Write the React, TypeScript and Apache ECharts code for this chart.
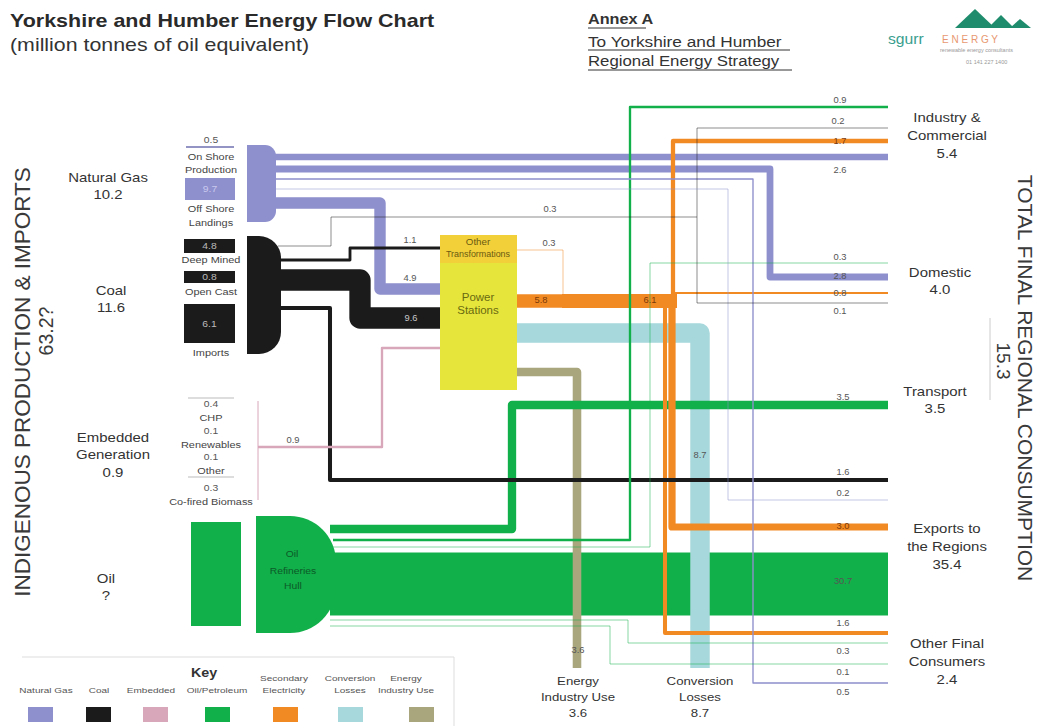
import React, { useEffect, useRef } from "react";
import * as echarts from "echarts";

const W = 1039;
const H = 726;
const FONT = "'Liberation Sans', Arial, Helvetica, sans-serif";

// ---------------- DATA ----------------
const fuelTypes = ["Natural Gas", "Coal", "Embedded", "Oil/Petroleum", "Secondary Electricity", "Conversion Losses", "Energy Industry Use"];
const fuelColors = ["#8e8fcd", "#1b1b1b", "#d8a7ba", "#12b04a", "#f28a24", "#a7d8dc", "#a9a57d"];
const keyLabels = [["Natural Gas"], ["Coal"], ["Embedded"], ["Oil/Petroleum"], ["Secondary", "Electricity"], ["Conversion", "Losses"], ["Energy", "Industry Use"]];

const sourceNames = [["Natural Gas"], ["Coal"], ["Embedded", "Generation"], ["Oil"]];
const sourceTotals = ["10.2", "11.6", "0.9", "?"];
const gasSupplyNames = [["On Shore", "Production"], ["Off Shore", "Landings"]];
const gasSupplyValues = [0.5, 9.7];
const coalSupplyNames = ["Deep Mined", "Open Cast", "Imports"];
const coalSupplyValues = [4.8, 0.8, 6.1];
const embeddedNames = ["CHP", "Renewables", "Other", "Co-fired Biomass"];
const embeddedValues = [0.4, 0.1, 0.1, 0.3];
const sinkNames = [["Industry &", "Commercial"], ["Domestic"], ["Transport"], ["Exports to", "the Regions"], ["Other Final", "Consumers"]];
const sinkTotals = [5.4, 4.0, 3.5, 35.4, 2.4];
const lossNames = [["Energy", "Industry Use"], ["Conversion", "Losses"]];
const lossTotals = [3.6, 8.7];
const totalSupply = "63.2?";
const totalConsumption = "15.3";

// flows: id, fuel type index, value (mtoe)
const flowIds = ["oilExp", "coalPS", "loss", "elecTrunk", "elecPS", "gasPS", "eiu", "oilTr", "elecExp", "gasDom", "gasInd", "elecInd", "elecOth", "coalExp", "coalOT", "oilInd", "embPS", "elecDom", "gasOth", "coalSplit", "otElec", "oilDom", "oilOth", "coalInd", "gasExp", "coalDom", "oilOth2"];
const flowFuel = [3, 1, 5, 4, 4, 0, 6, 3, 4, 0, 0, 4, 4, 1, 1, 3, 2, 4, 0, 1, 4, 3, 3, 1, 0, 1, 3];
const flowValues = [30.7, 9.6, 8.7, 6.1, 5.8, 4.9, 3.6, 3.5, 3.0, 2.8, 2.6, 1.7, 1.6, 1.6, 1.1, 0.9, 0.9, 0.8, 0.5, 0.3, 0.3, 0.3, 0.3, 0.2, 0.2, 0.1, 0.1];

// ---------------- LAYOUT (positions only) ----------------
type Route = { path: number[][]; label?: number[]; labelColor?: string };
const ROUTES: Record<string, Route> = {
  oilExp: { path: [[330, 584], [888, 584]], label: [843, 581] },
  coalPS: { path: [[278, 280], [360, 280], [360, 318], [440, 318]], label: [411, 318], labelColor: "#c8c8c8" },
  loss: { path: [[517, 333], [700, 333], [700, 668]], label: [700, 455] },
  elecTrunk: { path: [[562, 301], [677, 301]], label: [650, 300], labelColor: "#7a3a08" },
  elecPS: { path: [[517, 301], [563, 301]], label: [541, 300], labelColor: "#7a3a08" },
  gasPS: { path: [[272, 203], [380, 203], [380, 289], [440, 289]], label: [410, 278] },
  eiu: { path: [[517, 372], [577, 372], [577, 668]], label: [578, 650] },
  oilTr: { path: [[330, 529], [512, 529], [512, 405], [888, 405]], label: [843, 397] },
  elecExp: { path: [[672, 301], [672, 527], [888, 527]], label: [843, 526], labelColor: "#7a3a08" },
  gasDom: { path: [[272, 169], [770, 169], [770, 277], [888, 277]], label: [840, 276] },
  gasInd: { path: [[272, 157], [888, 157]], label: [840, 170] },
  elecInd: { path: [[673, 301], [673, 141], [888, 141]], label: [840, 141], labelColor: "#7a3a08" },
  elecOth: { path: [[665, 301], [665, 633], [888, 633]], label: [843, 623] },
  coalExp: { path: [[278, 308], [330, 308], [330, 480], [888, 480]], label: [843, 472] },
  coalOT: { path: [[278, 260], [350, 260], [350, 248], [440, 248]], label: [410, 240] },
  oilInd: { path: [[333, 540], [630, 540], [630, 107], [888, 107]], label: [840, 100] },
  embPS: { path: [[258, 447], [382, 447], [382, 348], [440, 348]], label: [293, 440] },
  elecDom: { path: [[673, 293], [888, 293]], label: [840, 293] },
  gasOth: { path: [[272, 179], [753, 179], [753, 683], [888, 683]], label: [843, 692] },
  coalSplit: { path: [[278, 246], [331, 246], [331, 217], [697, 217]], label: [550, 209] },
  otElec: { path: [[517, 250], [563, 250], [563, 296]], label: [549, 243] },
  oilDom: { path: [[333, 547], [650, 547], [650, 263], [888, 263]], label: [840, 257] },
  oilOth: { path: [[330, 620], [628, 620], [628, 643], [888, 643]], label: [843, 651] },
  coalInd: { path: [[697, 217], [697, 128], [888, 128]], label: [838, 121] },
  gasExp: { path: [[272, 189], [728, 189], [728, 500], [888, 500]], label: [843, 493] },
  coalDom: { path: [[697, 217], [697, 303], [888, 303]], label: [840, 311] },
  oilOth2: { path: [[330, 626], [610, 626], [610, 664], [888, 664]], label: [843, 672] },
};

const flowWidth = (v: number) => Math.max(1, 2.6 * Math.pow(v, 0.93));

type TOpt = { size?: number; weight?: string; color?: string; align?: string; sx?: number; rot?: number };
function txt(text: string, x: number, y: number, o: TOpt = {}) {
  return {
    type: "text",
    x,
    y,
    rotation: o.rot || 0,
    scaleX: o.sx ?? 1.15,
    z: 60,
    silent: true,
    style: {
      text,
      fill: o.color || "#333",
      fontSize: o.size || 10,
      fontWeight: o.weight || "normal",
      fontFamily: FONT,
      align: o.align || "center",
      verticalAlign: "middle",
    },
  };
}
function rect(x: number, y: number, w: number, h: number, fill: string, r?: number[] | number, stroke?: string) {
  return {
    type: "rect",
    z: 50,
    silent: true,
    shape: { x, y, width: w, height: h, r: r || 0 },
    style: { fill, stroke: stroke || null, lineWidth: stroke ? 1 : 0 },
  };
}
function ln(x1: number, y1: number, x2: number, y2: number, color: string, w = 1) {
  return { type: "line", z: 50, silent: true, shape: { x1, y1, x2, y2 }, style: { stroke: color, lineWidth: w } };
}

function buildOption() {
  const C = fuelColors;
  const flowData = flowIds.map((id, i) => {
    const v = flowValues[i];
    return {
      name: id,
      coords: ROUTES[id].path,
      lineStyle: {
        color: C[flowFuel[i]],
        width: flowWidth(v),
        opacity: v < 0.5 ? 0.5 : 1,
        join: "round",
        cap: "butt",
      },
    };
  });

  const g: any[] = [];

  // Title block
  g.push(txt("Yorkshire and Humber Energy Flow Chart", 10, 20, { size: 19, weight: "bold", align: "left", sx: 1.13, color: "#2a2a2a" }));
  g.push(txt("(million tonnes of oil equivalent)", 10, 45, { size: 17.5, align: "left", sx: 1.22, color: "#333" }));
  g.push(txt("Annex A", 588, 19, { size: 14.5, weight: "bold", align: "left", sx: 1.12 }));
  g.push(ln(588, 28, 646, 28, "#333", 1));
  g.push(txt("To Yorkshire and Humber", 588, 41, { size: 15, align: "left", sx: 1.15 }));
  g.push(ln(588, 50, 790, 50, "#333", 1));
  g.push(txt("Regional Energy Strategy", 588, 61, { size: 15, align: "left", sx: 1.12 }));
  g.push(ln(588, 70, 792, 70, "#333", 1));

  // Logo
  g.push({ type: "polygon", z: 50, shape: { points: [[955, 28], [975, 9], [995, 28]] }, style: { fill: "#1f8d6d" } });
  g.push({ type: "polygon", z: 50, shape: { points: [[988, 28], [1001, 15], [1014, 28]] }, style: { fill: "#1f8d6d" } });
  g.push({ type: "polygon", z: 50, shape: { points: [[1010, 28], [1020, 19], [1031, 28]] }, style: { fill: "#1f8d6d" } });
  g.push(txt("sgurr", 888, 39, { size: 15, align: "left", color: "#3a9e8e", sx: 1.05 }));
  g.push(txt("E N E R G Y", 942, 39, { size: 10, align: "left", color: "#e89870", sx: 1.0 }));
  g.push(txt("renewable energy consultants", 940, 50, { size: 5, align: "left", color: "#999", sx: 1.1 }));
  g.push(txt("01 141 227 1400", 966, 62, { size: 5, align: "left", color: "#999", sx: 1.1 }));

  // Axis-like side titles
  g.push(txt("INDIGENOUS PRODUCTION & IMPORTS", 22, 382, { size: 22.5, rot: Math.PI / 2, sx: 1, color: "#3a3a3a" }));
  g.push(txt(totalSupply, 46, 331, { size: 19.5, rot: Math.PI / 2, sx: 1, color: "#3a3a3a" }));
  g.push(txt("TOTAL FINAL REGIONAL CONSUMPTION", 1025, 378, { size: 21, rot: -Math.PI / 2, sx: 1, color: "#3a3a3a" }));
  g.push(txt(totalConsumption, 1003, 361, { size: 19, rot: -Math.PI / 2, sx: 1, color: "#3a3a3a" }));
  g.push(ln(990, 318, 990, 400, "#ccc", 1));

  // Source names
  const srcPos = [[108, 177], [111, 290], [113, 437], [106, 578]];
  sourceNames.forEach((lines, i) => {
    const [x, y] = srcPos[i];
    lines.forEach((t, k) => g.push(txt(t, x, y + k * 17.5, { size: 13 })));
    g.push(txt(sourceTotals[i], x, y + lines.length * 17.5, { size: 13 }));
  });

  // Gas sub-sources
  g.push(txt(gasSupplyValues[0].toFixed(1), 211, 140, { size: 9, color: "#555" }));
  g.push(ln(186, 147, 234, 147, "#6f70b0", 1.3));
  g.push(txt(gasSupplyNames[0][0], 211, 157, { size: 9.5, color: "#444" }));
  g.push(txt(gasSupplyNames[0][1], 211, 170, { size: 9.5, color: "#444" }));
  g.push(rect(185, 178, 50, 22, C[0]));
  g.push(txt(gasSupplyValues[1].toFixed(1), 210, 189, { size: 9, color: "#c9c9ee" }));
  g.push(txt(gasSupplyNames[1][0], 211, 209, { size: 9.5, color: "#444" }));
  g.push(txt(gasSupplyNames[1][1], 211, 223, { size: 9.5, color: "#444" }));

  // Coal sub-sources
  const coalBoxes = [[184, 239, 51, 14], [184, 271, 51, 12], [184, 304, 51, 39]];
  const coalLabelY = [260, 292, 353];
  coalBoxes.forEach((b, i) => {
    g.push(rect(b[0], b[1], b[2], b[3], C[1]));
    g.push(txt(coalSupplyValues[i].toFixed(1), b[0] + b[2] / 2, b[1] + b[3] / 2, { size: 9, color: "#bbb" }));
    g.push(txt(coalSupplyNames[i], 211, coalLabelY[i], { size: 9.5, color: "#444" }));
  });

  // Embedded sub-sources
  g.push(ln(188, 398, 234, 398, "#bbb", 1));
  g.push(ln(188, 477, 234, 477, "#bbb", 1));
  g.push(ln(258, 401, 258, 500, C[2], 1));
  const embY = [404, 431, 457, 488];
  embeddedNames.forEach((t, i) => {
    g.push(txt(embeddedValues[i].toFixed(1), 211, embY[i], { size: 9, color: "#555" }));
    g.push(txt(t, 211, embY[i] + 13.5, { size: 9.5, color: "#444" }));
  });

  // Hubs and transformation boxes
  g.push(rect(247, 145, 29, 77, C[0], [0, 11, 11, 0]));
  g.push(rect(247, 236, 34, 118, C[1], [0, 22, 22, 0]));
  g.push(rect(191, 522, 50, 104, C[3]));
  g.push(rect(256, 516, 80, 117, C[3], [0, 46, 46, 0]));
  g.push(txt("Oil", 292, 554, { size: 9, color: "#0b5a28" }));
  g.push(txt("Refineries", 293, 571, { size: 9, color: "#0b5a28" }));
  g.push(txt("Hull", 293, 586, { size: 9, color: "#0b5a28" }));
  g.push(rect(440, 235, 77, 28, "#f2d03a"));
  g.push(rect(440, 263, 77, 127, "#e5e53c"));
  g.push(txt("Other", 478, 242, { size: 8.5, color: "#6a5a10" }));
  g.push(txt("Transformations", 478, 254, { size: 8.5, color: "#6a5a10", sx: 1.05 }));
  g.push(txt("Power", 478, 297, { size: 10, color: "#6a6a10" }));
  g.push(txt("Stations", 478, 310, { size: 10, color: "#6a6a10" }));

  // Flow value labels
  flowIds.forEach((id, i) => {
    const r = ROUTES[id];
    if (!r.label) return;
    g.push(txt(flowValues[i].toFixed(1), r.label[0], r.label[1], { size: 8.5, color: r.labelColor || "#555", sx: 1.1 }));
  });

  // Sink labels
  const sinkPos = [[947, 117], [940, 272], [935, 391], [947, 528], [947, 643]];
  sinkNames.forEach((lines, i) => {
    const [x, y] = sinkPos[i];
    lines.forEach((t, k) => g.push(txt(t, x, y + k * 18, { size: 13 })));
    g.push(txt(sinkTotals[i].toFixed(1), x, y + lines.length * 18 - (lines.length === 1 ? 1 : 0), { size: 13 }));
  });
  const lossPos = [[578, 681], [700, 681]];
  lossNames.forEach((lines, i) => {
    const [x, y] = lossPos[i];
    lines.forEach((t, k) => g.push(txt(t, x, y + k * 16, { size: 11.5 })));
    g.push(txt(lossTotals[i].toFixed(1), x, y + 32, { size: 11.5 }));
  });

  // Key
  g.push(ln(22, 657, 454, 657, "#ddd", 1));
  g.push(ln(454, 657, 454, 726, "#ddd", 1));
  g.push(txt("Key", 204, 673, { size: 13, weight: "bold", color: "#333", sx: 1.1 }));
  const keyLabelX = [46, 99, 151, 217, 284, 350, 406];
  const keySwatchX = [28, 86, 143, 205, 273, 338, 409];
  fuelTypes.forEach((_, i) => {
    const lines = keyLabels[i];
    if (lines.length === 1) g.push(txt(lines[0], keyLabelX[i], 690, { size: 8, color: "#555", sx: 1.25 }));
    else lines.forEach((t, k) => g.push(txt(t, keyLabelX[i], 678 + k * 12, { size: 8, color: "#555", sx: 1.25 })));
    g.push(rect(keySwatchX[i], 707, 25, 15, C[i]));
  });

  return {
    animation: false,
    backgroundColor: "#ffffff",
    grid: { left: 0, right: 0, top: 0, bottom: 0 },
    xAxis: { type: "value", min: 0, max: W, show: false },
    yAxis: { type: "value", min: 0, max: H, inverse: true, show: false },
    series: [
      {
        type: "lines",
        coordinateSystem: "cartesian2d",
        polyline: true,
        silent: true,
        z: 2,
        lineStyle: { join: "round", cap: "butt" },
        data: flowData,
      },
    ],
    graphic: { elements: g },
  };
}

export default function App() {
  const ref = useRef<HTMLDivElement>(null);
  useEffect(() => {
    document.body.style.margin = "0";
    const chart = echarts.init(ref.current!, null, { renderer: "svg" });
    chart.setOption(buildOption() as any);
    return () => chart.dispose();
  }, []);
  return <div ref={ref} style={{ width: W, height: H }} />;
}
